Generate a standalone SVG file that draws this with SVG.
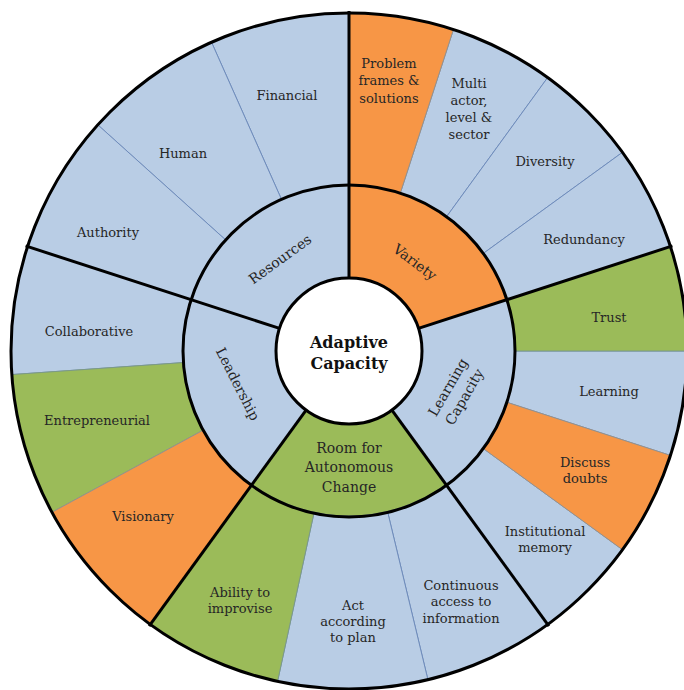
<svg xmlns="http://www.w3.org/2000/svg" width="684" height="690" viewBox="0 0 684 690">
  <style>
    .seg { stroke: #6f8cbb; stroke-width: 1; }
    .blue { fill: #B9CDE5; }
    .orange { fill: #F79646; stroke: #9a9187; }
    .green { fill: #9BBB59; stroke: #7c9a86; }
    .ring { fill: none; stroke: #000; stroke-width: 3; }
    .div { stroke: #000; stroke-width: 3; stroke-linecap: butt; }
    text { font-family: "DejaVu Serif", "Liberation Serif", serif; fill: #262626; text-anchor: middle; }
    .lbl { font-size: 13px; }
    .mid { font-size: 14px; }
    .core { font-size: 16px; font-weight: bold; fill: #111; }
  </style>

  <rect width="684" height="690" fill="#fff"/>

  <!-- Outer ring: Resources -->
  <g id="financial">
    <path class="seg blue" d="M 211.52,42.22 A 338 338 0 0 1 349,13 L 349,185 A 166 166 0 0 0 281.48,199.35 Z"/>
    <text class="lbl" x="287" y="99.5">Financial</text>
  </g>
  <g id="human">
    <path class="seg blue" d="M 97.82,124.83 A 338 338 0 0 1 211.52,42.22 L 281.48,199.35 A 166 166 0 0 0 225.64,239.92 Z"/>
    <text class="lbl" x="183" y="157.5">Human</text>
  </g>
  <g id="authority">
    <path class="seg blue" d="M 27.54,246.55 A 338 338 0 0 1 97.82,124.83 L 225.64,239.92 A 166 166 0 0 0 191.12,299.70 Z"/>
    <text class="lbl" x="108" y="236.5">Authority</text>
  </g>

  <!-- Outer ring: Variety -->
  <g id="multi-actor">
    <path class="seg blue" d="M 453.45,29.54 A 338 338 0 0 1 547.67,77.55 L 446.57,216.70 A 166 166 0 0 0 400.30,193.12 Z"/>
    <text class="lbl" y="87.5"><tspan x="469">Multi</tspan><tspan x="469" dy="17">actor,</tspan><tspan x="469" dy="17">level &amp;</tspan><tspan x="469" dy="17">sector</tspan></text>
  </g>
  <g id="diversity">
    <path class="seg blue" d="M 547.67,77.55 A 338 338 0 0 1 622.45,152.33 L 483.30,253.43 A 166 166 0 0 0 446.57,216.70 Z"/>
    <text class="lbl" x="545" y="165.5">Diversity</text>
  </g>
  <g id="redundancy">
    <path class="seg blue" d="M 622.45,152.33 A 338 338 0 0 1 670.46,246.55 L 506.88,299.70 A 166 166 0 0 0 483.30,253.43 Z"/>
    <text class="lbl" x="584" y="243.5">Redundancy</text>
  </g>
  <g id="problem-frames">
    <path class="seg orange" d="M 349,13 A 338 338 0 0 1 453.45,29.54 L 400.30,193.12 A 166 166 0 0 0 349,185 Z"/>
    <text class="lbl" y="67.5"><tspan x="389">Problem</tspan><tspan x="389" dy="17.5">frames &amp;</tspan><tspan x="389" dy="17.5">solutions</tspan></text>
  </g>

  <!-- Outer ring: Learning Capacity -->
  <g id="learning">
    <path class="seg blue" d="M 687,351 A 338 338 0 0 1 670.46,455.45 L 506.88,402.30 A 166 166 0 0 0 515,351 Z"/>
    <text class="lbl" x="609" y="395.5">Learning</text>
  </g>
  <g id="institutional-memory">
    <path class="seg blue" d="M 622.45,549.67 A 338 338 0 0 1 547.67,624.45 L 446.57,484.30 A 166 166 0 0 0 483.30,448.57 Z"/>
    <text class="lbl" y="535.5"><tspan x="545">Institutional</tspan><tspan x="545" dy="16.5">memory</tspan></text>
  </g>
  <g id="trust">
    <path class="seg green" d="M 670.46,246.55 A 338 338 0 0 1 687,351 L 515,351 A 166 166 0 0 0 506.88,299.70 Z"/>
    <text class="lbl" x="609" y="321.5">Trust</text>
  </g>
  <g id="discuss-doubts">
    <path class="seg orange" d="M 670.46,455.45 A 338 338 0 0 1 622.45,549.67 L 483.30,448.57 A 166 166 0 0 0 506.88,402.30 Z"/>
    <text class="lbl" y="466.5"><tspan x="585">Discuss</tspan><tspan x="585" dy="16">doubts</tspan></text>
  </g>

  <!-- Outer ring: Room for Autonomous Change -->
  <g id="continuous-access">
    <path class="seg blue" d="M 547.67,624.45 A 338 338 0 0 1 427.91,679.66 L 387.75,512.41 A 166 166 0 0 0 446.57,484.30 Z"/>
    <text class="lbl" y="589.5"><tspan x="461">Continuous</tspan><tspan x="461" dy="16.5">access to</tspan><tspan x="461" dy="16.5">information</tspan></text>
  </g>
  <g id="act-to-plan">
    <path class="seg blue" d="M 427.91,679.66 A 338 338 0 0 1 277.57,681.37 L 313.92,513.25 A 166 166 0 0 0 387.75,512.41 Z"/>
    <text class="lbl" y="609.5"><tspan x="353">Act</tspan><tspan x="353" dy="16">according</tspan><tspan x="353" dy="16">to plan</tspan></text>
  </g>
  <g id="improvise">
    <path class="seg green" d="M 277.57,681.37 A 338 338 0 0 1 150.33,624.45 L 251.43,484.30 A 166 166 0 0 0 313.92,513.25 Z"/>
    <text class="lbl" y="596.5"><tspan x="240">Ability to</tspan><tspan x="240" dy="16">improvise</tspan></text>
  </g>

  <!-- Outer ring: Leadership -->
  <g id="collaborative">
    <path class="seg blue" d="M 11.82,374.58 A 338 338 0 0 1 27.54,246.55 L 191.12,299.70 A 166 166 0 0 0 183.41,362.58 Z"/>
    <text class="lbl" x="89" y="335.5">Collaborative</text>
  </g>
  <g id="entrepreneurial">
    <path class="seg green" d="M 51.96,512.28 A 338 338 0 0 1 11.82,374.58 L 183.41,362.58 A 166 166 0 0 0 203.12,430.21 Z"/>
    <text class="lbl" x="97" y="424.5">Entrepreneurial</text>
  </g>
  <g id="visionary">
    <path class="seg orange" d="M 150.33,624.45 A 338 338 0 0 1 51.96,512.28 L 203.12,430.21 A 166 166 0 0 0 251.43,484.30 Z"/>
    <text class="lbl" x="143" y="520.5">Visionary</text>
  </g>

  <!-- Middle ring: the five dimensions -->
  <g id="resources">
    <path class="blue" d="M 191.12,299.70 A 166 166 0 0 1 349,185 L 349,278 A 73 73 0 0 0 279.57,328.44 Z"/>
    <text class="mid" transform="translate(280,259) rotate(-36)" y="5">Resources</text>
  </g>
  <g id="variety">
    <path class="orange" stroke="none" d="M 349,185 A 166 166 0 0 1 506.88,299.70 L 418.43,328.44 A 73 73 0 0 0 349,278 Z"/>
    <text class="mid" transform="translate(415,262) rotate(37)" y="5">Variety</text>
  </g>
  <g id="learning-capacity">
    <path class="blue" d="M 506.88,299.70 A 166 166 0 0 1 446.57,484.30 L 391.91,410.06 A 73 73 0 0 0 418.43,328.44 Z"/>
    <text class="mid" transform="translate(456,392) rotate(-60)"><tspan x="0" y="-4.5">Learning</tspan><tspan x="0" y="14.5">Capacity</tspan></text>
  </g>
  <g id="room-for-change">
    <path class="green" stroke="none" d="M 446.57,484.30 A 166 166 0 0 1 251.43,484.30 L 306.09,410.06 A 73 73 0 0 0 391.91,410.06 Z"/>
    <text class="mid" y="452.5"><tspan x="349">Room for</tspan><tspan x="349" dy="19.5">Autonomous</tspan><tspan x="349" dy="19.5">Change</tspan></text>
  </g>
  <g id="leadership">
    <path class="blue" d="M 251.43,484.30 A 166 166 0 0 1 191.12,299.70 L 279.57,328.44 A 73 73 0 0 0 306.09,410.06 Z"/>
    <text class="mid" transform="translate(238,384) rotate(63)" y="5">Leadership</text>
  </g>

  <!-- Section dividers and ring outlines -->
  <g id="connectors">
    <line class="div" x1="349" y1="278" x2="349" y2="11"/>
    <line class="div" x1="418.43" y1="328.44" x2="672.4" y2="245.9"/>
    <line class="div" x1="391.91" y1="410.06" x2="548.9" y2="626.1"/>
    <line class="div" x1="306.09" y1="410.06" x2="149.1" y2="626.1"/>
    <line class="div" x1="279.57" y1="328.44" x2="25.6" y2="245.9"/>
    <circle class="ring" cx="349" cy="351" r="338"/>
    <circle class="ring" cx="349" cy="351" r="166"/>
  </g>

  <!-- Centre -->
  <g id="adaptive-capacity">
    <circle cx="349" cy="351" r="73" fill="#fff" stroke="#000" stroke-width="3"/>
    <text class="core" y="348"><tspan x="349">Adaptive</tspan><tspan x="349" dy="21">Capacity</tspan></text>
  </g>
</svg>
